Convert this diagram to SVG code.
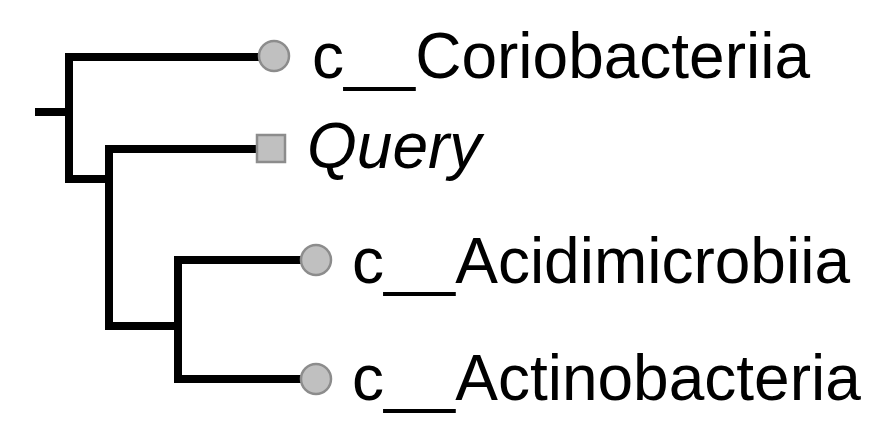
<svg xmlns="http://www.w3.org/2000/svg" width="870" height="425" viewBox="0 0 870 425">
  <style>
    .edge { fill: none; stroke: #000; stroke-width: 8; stroke-linejoin: miter; stroke-linecap: butt; }
    .leaf { fill: #c0c0c0; stroke: #8c8c8c; stroke-width: 2.5; }
    .label { font-family: "Liberation Sans", Arial, sans-serif; font-size: 64px; fill: #000; }
    .query { font-style: italic; }
  </style>
  <rect width="870" height="425" fill="#fff"/>
  <g id="connectors">
    <path class="edge" d="M35 112 H69"/>
    <path class="edge" d="M260 57 H69 V179 H109"/>
    <path class="edge" d="M258 149 H109 V326 H178"/>
    <path class="edge" d="M302 260 H178 V379 H302"/>
  </g>
  <g id="coriobacteriia">
    <circle class="leaf" cx="274" cy="56" r="15"/>
    <text class="label" x="312" y="78">c__Coriobacteriia</text>
  </g>
  <g id="query">
    <rect class="leaf" x="257" y="135" width="28" height="27"/>
    <text class="label query" x="307" y="168">Query</text>
  </g>
  <g id="acidimicrobiia">
    <circle class="leaf" cx="316" cy="260" r="15"/>
    <text class="label" x="352" y="283">c__Acidimicrobiia</text>
  </g>
  <g id="actinobacteria">
    <circle class="leaf" cx="316" cy="379" r="15"/>
    <text class="label" x="352" y="400">c__Actinobacteria</text>
  </g>
</svg>
